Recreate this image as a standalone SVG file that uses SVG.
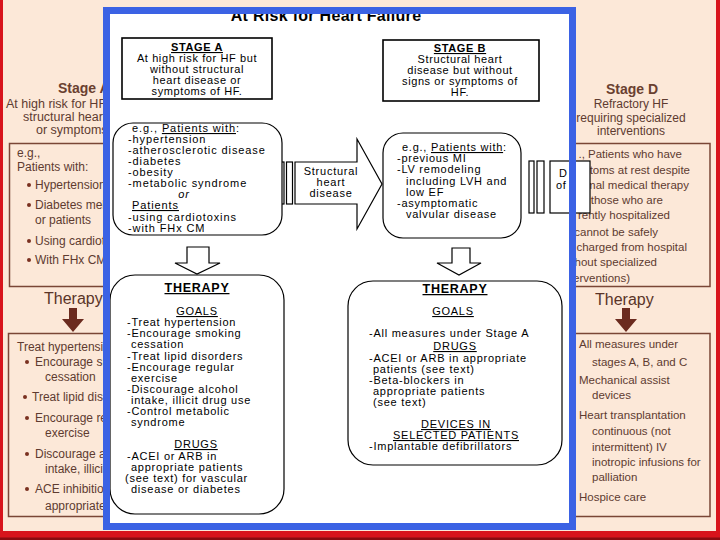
<svg xmlns="http://www.w3.org/2000/svg" width="720" height="540" viewBox="0 0 720 540">
<style>
.bt{font-family:"Liberation Sans",Arial,sans-serif;fill:#5e3b30;font-size:12px}
.bh{font-family:"Liberation Sans",Arial,sans-serif;fill:#6a4030;font-size:14px;font-weight:bold}
.bs{font-family:"Liberation Sans",Arial,sans-serif;fill:#5e3b30;font-size:12.5px}
.bs2{font-family:"Liberation Sans",Arial,sans-serif;fill:#5e3b30;font-size:12px}
.br{font-family:"Liberation Sans",Arial,sans-serif;fill:#5e3b30;font-size:11.5px}
.bth{font-family:"Liberation Sans",Arial,sans-serif;fill:#5a3428;font-size:16px}
.bb{stroke:#7a4636;stroke-width:1.5;fill:none}
.dot{fill:#7a3020}
.barw{fill:#6b2b1f}
.t{font-family:"Liberation Sans",Arial,sans-serif;font-size:11px;letter-spacing:0.75px;fill:#000}
.ts{letter-spacing:0.6px}
.ta{letter-spacing:0.9px}
.b{font-weight:bold}
.u{text-decoration:underline}
.c{text-anchor:middle}
.e{text-anchor:end}
.box{fill:#fff;stroke:#000;stroke-width:1.6}
.rbox{fill:#fff;stroke:#000;stroke-width:1.2}
.conn{fill:#fff;stroke:#000;stroke-width:1.2}
</style>
<!-- slide background -->
<rect x="0" y="0" width="720" height="540" fill="#fce8d8"/>
<rect x="0" y="0" width="3" height="540" fill="#d8141c"/>
<rect x="716" y="0" width="4" height="540" fill="#d8141c"/>
<rect x="0" y="531" width="720" height="9" fill="#d8141c"/>
<rect x="0" y="537.5" width="720" height="2.5" fill="#8a0c10"/>
<g id="bg-left">
<text class="bh" x="58" y="93">Stage A</text>
<text class="bs" x="6" y="108">At high risk for HF</text>
<text class="bs" x="23" y="121">structural heart</text>
<text class="bs" x="36" y="134">or symptoms</text>
<rect class="bb" x="9.5" y="143.5" width="200" height="143"/>
<text class="bt" x="17" y="157">e.g.,</text>
<text class="bt" x="17" y="171">Patients with:</text>
<circle class="dot" cx="29" cy="185" r="2"/><text class="bt" x="35" y="189">Hypertension</text>
<circle class="dot" cx="29" cy="205" r="2"/><text class="bt" x="35" y="209">Diabetes mel</text>
<text class="bt" x="35" y="224">or patients</text>
<circle class="dot" cx="29" cy="241" r="2"/><text class="bt" x="35" y="245">Using cardiot</text>
<circle class="dot" cx="29" cy="260" r="2"/><text class="bt" x="35" y="264">With FHx CM</text>
<text class="bth" x="44" y="304">Therapy</text>
<polygon class="barw" points="69,308 77,308 77,319 84,319 73,332 62,319 69,319"/>
<rect class="bb" x="8.5" y="333.5" width="200" height="183"/>
<text class="bt" x="17" y="351">Treat hypertension</text>
<circle class="dot" cx="27" cy="362" r="2"/><text class="bt" x="35" y="366">Encourage sm</text>
<text class="bt" x="45" y="381">cessation</text>
<circle class="dot" cx="25" cy="397" r="2"/><text class="bt" x="32" y="401">Treat lipid dis</text>
<circle class="dot" cx="27" cy="418" r="2"/><text class="bt" x="35" y="422">Encourage re</text>
<text class="bt" x="45" y="437">exercise</text>
<circle class="dot" cx="27" cy="454" r="2"/><text class="bt" x="35" y="458">Discourage al</text>
<text class="bt" x="45" y="473">intake, illicit</text>
<circle class="dot" cx="27" cy="489" r="2"/><text class="bt" x="35" y="493">ACE inhibition</text>
<text class="bt" x="45" y="510">appropriate</text>
</g>
<g id="bg-right">
<text class="bh c" x="632" y="94">Stage D</text>
<text class="bs2 c" x="631" y="108">Refractory HF</text>
<text class="bs2 c" x="631" y="121.5">requiring specialized</text>
<text class="bs2 c" x="631" y="135">interventions</text>
<rect class="bb" x="510" y="143.5" width="200" height="143"/>
<text class="br e" x="682" y="158">., Patients who have</text>
<text class="br e" x="690" y="174">mptoms at rest despite</text>
<text class="br e" x="689" y="189">ximal medical therapy</text>
<text class="br e" x="663" y="204">g., those who are</text>
<text class="br e" x="670" y="219">rently hospitalized</text>
<text class="br e" x="658" y="236">cannot be safely</text>
<text class="br e" x="687" y="251">charged from hospital</text>
<text class="br e" x="657" y="266">hout specialized</text>
<text class="br e" x="630" y="282">erventions)</text>
<text class="bth" x="595" y="305">Therapy</text>
<polygon class="barw" points="622,308 630,308 630,319 637,319 626,332 615,319 622,319"/>
<rect class="bb" x="510" y="333.5" width="200" height="183"/>
<text class="br" x="579" y="348">All measures under</text>
<text class="br" x="592" y="366">stages A, B, and C</text>
<text class="br" x="579" y="384">Mechanical assist</text>
<text class="br" x="592" y="399">devices</text>
<text class="br" x="579" y="419">Heart transplantation</text>
<text class="br" x="592" y="435">continuous (not</text>
<text class="br" x="592" y="451">intermittent) IV</text>
<text class="br" x="592" y="466">inotropic infusions for</text>
<text class="br" x="592" y="481">palliation</text>
<text class="br" x="579" y="501">Hospice care</text>
</g>
<!-- white panel -->
<rect x="110" y="14" width="459" height="509" fill="#fff"/>
<text class="t b c" x="326" y="21" style="font-size:16px;letter-spacing:0.3px">At Risk for Heart Failure</text>
<g id="connectors">
<rect class="conn" x="280" y="162" width="4" height="42"/>
<rect class="conn" x="286.5" y="162" width="6" height="42"/>
<polygon class="conn" points="295,162 357,162 357,139 382,184 357,229 357,204 295,204"/>
<text class="t c" x="331" y="175">Structural</text>
<text class="t c" x="331" y="186">heart</text>
<text class="t c" x="331" y="197">disease</text>
<rect class="conn" x="529" y="161" width="5" height="52"/>
<rect class="conn" x="537" y="161" width="7" height="52"/>
<rect class="conn" x="550" y="161" width="40" height="52"/>
<text class="t" x="559" y="177">D</text>
<text class="t" x="556" y="189">of</text>
<polygon class="conn" points="187,247 209,247 209,263 220,263 197,274 175,263 187,263"/>
<polygon class="conn" points="452,248 470,248 470,263 481,263 459,275 437,263 452,263"/>
</g>
<g id="stageA">
<rect class="box" x="122" y="38" width="150" height="61"/>
<text class="t ts b u c" x="197" y="51">STAGE A</text>
<text class="t ts c" x="197" y="62">At high risk for HF but</text>
<text class="t ts c" x="197" y="73">without structural</text>
<text class="t ts c" x="197" y="84">heart disease or</text>
<text class="t ts c" x="197" y="95">symptoms of HF.</text>
</g>
<g id="stageB">
<rect class="box" x="383" y="40" width="156" height="61"/>
<text class="t ts b u c" x="460" y="52">STAGE B</text>
<text class="t ts c" x="460" y="63">Structural heart</text>
<text class="t ts c" x="460" y="74">disease but without</text>
<text class="t ts c" x="460" y="85">signs or  symptoms of</text>
<text class="t ts c" x="460" y="96">HF.</text>
</g>
<g id="patientsA">
<rect class="rbox" x="113" y="123" width="169" height="112" rx="20"/>
<text class="t ta" x="132" y="132">e.g., <tspan class="u">Patients with</tspan>:</text>
<text class="t ta" x="128" y="143">-hypertension</text>
<text class="t ta" x="128" y="154">-atherosclerotic disease</text>
<text class="t ta" x="128" y="165">-diabetes</text>
<text class="t ta" x="128" y="176">-obesity</text>
<text class="t ta" x="128" y="187">-metabolic syndrome</text>
<text class="t ta c" x="184" y="198" font-style="italic">or</text>
<text class="t ta u" x="132" y="209">Patients</text>
<text class="t ta" x="128" y="221">-using cardiotoxins</text>
<text class="t ta" x="128" y="232">-with FHx CM</text>
</g>
<g id="patientsB">
<rect class="rbox" x="383" y="133" width="138" height="105" rx="20"/>
<text class="t" x="402" y="151">e.g., <tspan class="u">Patients with</tspan>:</text>
<text class="t" x="397" y="162">-previous MI</text>
<text class="t" x="397" y="173">-LV remodeling</text>
<text class="t" x="406" y="185">including LVH and</text>
<text class="t" x="406" y="196">low EF</text>
<text class="t" x="397" y="207">-asymptomatic</text>
<text class="t" x="406" y="218">valvular disease</text>
</g>
<g id="therapyA">
<rect class="rbox" x="110" y="275" width="174" height="239" rx="25"/>
<text class="t b u c" x="197" y="292" style="font-size:12.5px">THERAPY</text>
<text class="t u c" x="197" y="315">GOALS</text>
<text class="t" x="127" y="326">-Treat hypertension</text>
<text class="t" x="127" y="337">-Encourage smoking</text>
<text class="t" x="131" y="348">cessation</text>
<text class="t" x="127" y="360">-Treat lipid disorders</text>
<text class="t" x="127" y="371">-Encourage regular</text>
<text class="t" x="131" y="382">exercise</text>
<text class="t" x="127" y="393">-Discourage alcohol</text>
<text class="t" x="131" y="404">intake, illicit drug use</text>
<text class="t" x="127" y="415">-Control metabolic</text>
<text class="t" x="131" y="426">syndrome</text>
<text class="t u c" x="196" y="448">DRUGS</text>
<text class="t" x="127" y="460">-ACEI or ARB in</text>
<text class="t" x="131" y="471">appropriate patients</text>
<text class="t" x="125" y="482">(see text) for vascular</text>
<text class="t" x="131" y="493">disease or diabetes</text>
</g>
<g id="therapyB">
<rect class="rbox" x="348" y="281" width="214" height="184" rx="25"/>
<text class="t b u c" x="455" y="293" style="font-size:12.5px">THERAPY</text>
<text class="t u c" x="453" y="315">GOALS</text>
<text class="t" x="369" y="337">-All measures under Stage A</text>
<text class="t u c" x="455" y="350">DRUGS</text>
<text class="t" x="369" y="362">-ACEI or ARB in appropriate</text>
<text class="t" x="373" y="373">patients (see text)</text>
<text class="t" x="369" y="384">-Beta-blockers in</text>
<text class="t" x="373" y="395">appropriate patients</text>
<text class="t" x="373" y="406">(see text)</text>
<text class="t u c" x="456" y="428">DEVICES IN</text>
<text class="t u c" x="456" y="439">SELECTED PATIENTS</text>
<text class="t" x="369" y="450">-Implantable defibrillators</text>
</g>
<!-- blue frame -->
<rect x="106.5" y="10.5" width="466" height="516" fill="none" stroke="#3b62e4" stroke-width="7"/>
</svg>
